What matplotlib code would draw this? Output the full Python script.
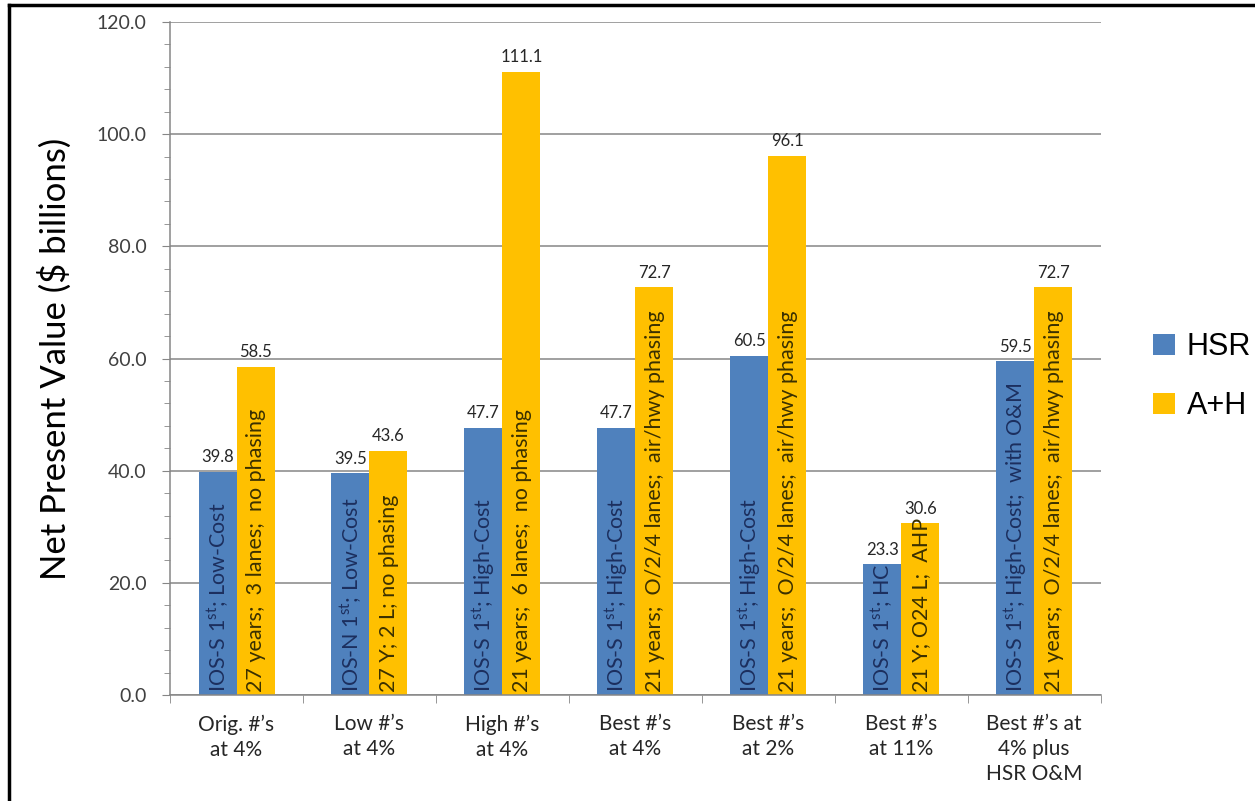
import matplotlib

matplotlib.use("Agg")
import matplotlib.pyplot as plt
import numpy as np
from matplotlib.lines import Line2D
from matplotlib.ticker import MultipleLocator, FormatStrFormatter

plt.rcParams["font.family"] = ["Lato", "DejaVu Sans"]
plt.rcParams["mathtext.fontset"] = "custom"
plt.rcParams["mathtext.rm"] = "Lato"
plt.rcParams["mathtext.it"] = "Lato:italic"

categories = [
    "Orig. #\u2019s\nat 4%",
    "Low #\u2019s\nat 4%",
    "High #\u2019s\nat 4%",
    "Best #\u2019s\nat 4%",
    "Best #\u2019s\nat 2%",
    "Best #\u2019s\nat 11%",
    "Best #\u2019s at\n4% plus\nHSR O&M",
]
hsr = [39.8, 39.5, 47.7, 47.7, 60.5, 23.3, 59.5]
ah = [58.5, 43.6, 111.1, 72.7, 96.1, 30.6, 72.7]

ST = r"1$^{\mathrm{st}}$"
hsr_notes = [
    f"IOS-S {ST}; Low-Cost",
    f"IOS-N {ST}; Low-Cost",
    f"IOS-S {ST}; High-Cost",
    f"IOS-S {ST}; High-Cost",
    f"IOS-S {ST}; High-Cost",
    f"IOS-S {ST}; HC",
    f"IOS-S {ST}; High-Cost;  with O&M",
]
ah_notes = [
    "27 years;  3 lanes;  no phasing",
    "27 Y; 2 L; no phasing",
    "21 years;  6 lanes;  no phasing",
    "21 years;  O/2/4 lanes;  air/hwy phasing",
    "21 years;  O/2/4 lanes;  air/hwy phasing",
    "21 Y; O24 L;  AHP",
    "21 years;  O/2/4 lanes;  air/hwy phasing",
]

BLUE = "#4F81BD"
GOLD = "#FFC000"
GRID = "#868686"

fig = plt.figure(figsize=(12.55, 8.01), dpi=100)
ax = fig.add_axes([0.1355, 0.1323, 0.7415, 0.8402])

x = np.arange(len(categories))
w = 1 / 3.5
ax.bar(x - w / 2, hsr, w, color=BLUE, label="HSR", zorder=2)
ax.bar(x + w / 2, ah, w, color=GOLD, label="A+H", zorder=2)

for i in range(len(categories)):
    ax.text(x[i] - w / 2, hsr[i] + 1.2, f"{hsr[i]:.1f}", ha="center", va="bottom",
            fontsize=12, color="#262626")
    ax.text(x[i] + w / 2, ah[i] + 1.2, f"{ah[i]:.1f}", ha="center", va="bottom",
            fontsize=12, color="#262626")
    ax.text(x[i] - w / 2 + 0.005, 0.6, hsr_notes[i], rotation=90, ha="center", va="bottom",
            fontsize=15.5, color="#1c2f5e", zorder=3)
    ax.text(x[i] + w / 2 + 0.005, 0.6, ah_notes[i], rotation=90, ha="center", va="bottom",
            fontsize=15.5, color="#3a3000", zorder=3)

ax.set_xlim(-0.5, len(categories) - 0.5)
ax.set_ylim(0, 120)
ax.yaxis.set_major_locator(MultipleLocator(20))
ax.yaxis.set_minor_locator(MultipleLocator(4))
ax.yaxis.set_major_formatter(FormatStrFormatter("%.1f"))
ax.grid(axis="y", color=GRID, linewidth=1.1, zorder=0)

ax.set_xticks(x)
ax.set_xticklabels(categories, fontsize=15, color="#262626", linespacing=1.3)
ax.set_xticks(np.arange(len(categories) + 1) - 0.5, minor=True)
ax.tick_params(axis="x", which="major", length=0, pad=14)
ax.tick_params(axis="x", which="minor", length=6, color=GRID, direction="out")
ax.tick_params(axis="y", which="major", length=6, color=GRID, labelsize=14,
               labelcolor="#404040", pad=11)
ax.tick_params(axis="y", which="minor", length=4, color=GRID)

for side in ("top", "right"):
    ax.spines[side].set_visible(False)
for side in ("left", "bottom"):
    ax.spines[side].set_color(GRID)
    ax.spines[side].set_linewidth(1.1)

ax.set_ylabel("Net Present Value ($ billions)", fontsize=25)
ax.yaxis.set_label_coords(-0.105, 0.5)

fig.legend(loc="center left", bbox_to_anchor=(0.897, 0.530), frameon=False,
           prop={"family": "Liberation Sans", "size": 22}, handlelength=0.7,
           handleheight=0.7, handletextpad=0.4, labelspacing=0.95)

# frame lines on the left and top edges
fig.add_artist(Line2D([0.0072, 0.0072], [0, 0.994], color="black", linewidth=2.5))
fig.add_artist(Line2D([0.0072, 1.0], [0.994, 0.994], color="black", linewidth=2.5))

fig.savefig("out.png", dpi=100)
